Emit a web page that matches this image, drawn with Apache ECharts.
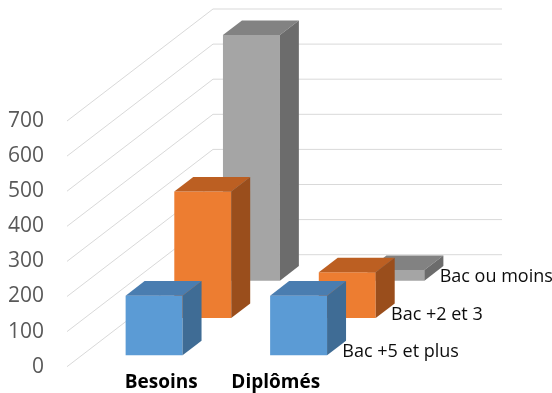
<!DOCTYPE html>
<html>
<head>
<meta charset="utf-8">
<script src="https://cdn.jsdelivr.net/npm/echarts@6/dist/echarts.min.js"></script>
<style>
  html, body { margin: 0; padding: 0; background: #ffffff; }
  #chart { width: 552px; height: 393px; }
</style>
</head>
<body>
<div id="chart"></div>
<script>
// ---- data ----
const categories = ['Besoins', 'Diplômés'];
const seriesNames = ['Bac +5 et plus', 'Bac +2 et 3', 'Bac ou moins'];
const bac5Values = [170, 170];
const bac23Values = [360, 130];
const bacMoinsValues = [700, 30];
const yTicks = [0, 100, 200, 300, 400, 500, 600, 700];

// ---- styles ----
const FONT = "'Open Sans', 'DejaVu Sans', sans-serif";
const DEPTH = [146, -112];     // oblique depth vector (px) from front plane to back wall
const ROWS = 3;
const BAR_W = 0.394;           // bar width as fraction of category band
const BAR_D = 0.39;            // bar depth as fraction of a row
const palettes = [
  { front: '#5B9BD5', top: '#4A7DB0', side: '#3F6C95' },
  { front: '#ED7D31', top: '#BC5F22', side: '#9A4E1C' },
  { front: '#A5A5A5', top: '#828282', side: '#6C6C6C' }
];
const seriesValues = [bac5Values, bac23Values, bacMoinsValues];

const chart = echarts.init(document.getElementById('chart'), null, { renderer: 'canvas' });

function gridRender(params, api) {
  const v = api.value(1);
  const band = api.size([1, 0])[0];
  const pL = api.coord([0, v]);
  const pR = api.coord([categories.length - 1, v]);
  const xL = pL[0] - band / 2;
  const xR = pR[0] + band / 2;
  const y = pL[1];
  return {
    type: 'polyline',
    shape: { points: [[xL, y], [xL + DEPTH[0], y + DEPTH[1]], [xR + DEPTH[0], y + DEPTH[1]]] },
    style: { stroke: '#D9D9D9', lineWidth: 1, fill: null }
  };
}

function makeBarRender(row) {
  return function (params, api) {
    const i = api.value(0);
    const v = api.value(1);
    const c = api.coord([i, v]);
    const b = api.coord([i, 0]);
    const band = api.size([1, 0])[0];
    const w = band * BAR_W;
    const f0 = (row + 0.5 - BAR_D / 2) / ROWS;
    const f1 = (row + 0.5 + BAR_D / 2) / ROWS;
    const ddx = (f1 - f0) * DEPTH[0], ddy = (f1 - f0) * DEPTH[1];
    const x0 = c[0] - w / 2 + f0 * DEPTH[0];
    const x1 = x0 + w;
    const yt = c[1] + f0 * DEPTH[1];
    const yb = b[1] + f0 * DEPTH[1];
    const pal = palettes[row];
    const children = [
      { type: 'rect', shape: { x: x0, y: yt, width: w, height: yb - yt }, style: { fill: pal.front } },
      { type: 'polygon', shape: { points: [[x0, yt], [x1, yt], [x1 + ddx, yt + ddy], [x0 + ddx, yt + ddy]] }, style: { fill: pal.top } },
      { type: 'polygon', shape: { points: [[x1, yt], [x1 + ddx, yt + ddy], [x1 + ddx, yb + ddy], [x1, yb]] }, style: { fill: pal.side } }
    ];
    if (params.dataIndex === categories.length - 1) {
      // series (depth axis) label at right edge of floor
      const fc = (row + 0.5) / ROWS;
      const xr = b[0] + band / 2 + fc * DEPTH[0];
      const yr = b[1] + fc * DEPTH[1];
      children.push({
        type: 'text',
        style: {
          text: seriesNames[row], x: xr - 38, y: yr + 4,
          fill: '#0D0D0D', fontSize: 18, fontFamily: FONT,
          align: 'left', verticalAlign: 'middle'
        }
      });
    }
    return { type: 'group', children: children };
  };
}

const series = [{
  type: 'custom',
  name: 'grid',
  coordinateSystem: 'cartesian2d',
  clip: false,
  silent: true,
  z: 1,
  renderItem: gridRender,
  encode: { x: 0, y: 1 },
  data: yTicks.map(t => [0, t])
}];
for (let row = ROWS - 1; row >= 0; row--) {
  series.push({
    type: 'custom',
    name: seriesNames[row],
    coordinateSystem: 'cartesian2d',
    clip: false,
    z: 2,
    renderItem: makeBarRender(row),
    encode: { x: 0, y: 1 },
    data: seriesValues[row].map((v, i) => [i, v])
  });
}

chart.setOption({
  animation: false,
  backgroundColor: '#ffffff',
  grid: { left: 67, right: 196, top: 121, bottom: 26.3, containLabel: false },
  xAxis: {
    type: 'category',
    data: categories,
    axisLine: { show: false },
    axisTick: { show: false },
    splitLine: { show: false },
    axisLabel: {
      margin: 4,
      interval: 0,
      formatter: function (val, idx) { return '{c' + idx + '|' + val + '}'; },
      rich: {
        c0: { fontSize: 19, fontWeight: 'bold', fontFamily: FONT, color: '#000000', lineHeight: 24, padding: [0, 0, 0, 44] },
        c1: { fontSize: 19, fontWeight: 'bold', fontFamily: FONT, color: '#000000', lineHeight: 24, padding: [0, 16, 0, 0] }
      }
    }
  },
  yAxis: {
    type: 'value',
    min: 0,
    max: 700,
    interval: 100,
    axisLine: { show: false },
    axisTick: { show: false },
    splitLine: { show: false },
    axisLabel: { fontSize: 21, fontFamily: FONT, color: '#595959', margin: 23 }
  },
  series: series
});
</script>
</body>
</html>
